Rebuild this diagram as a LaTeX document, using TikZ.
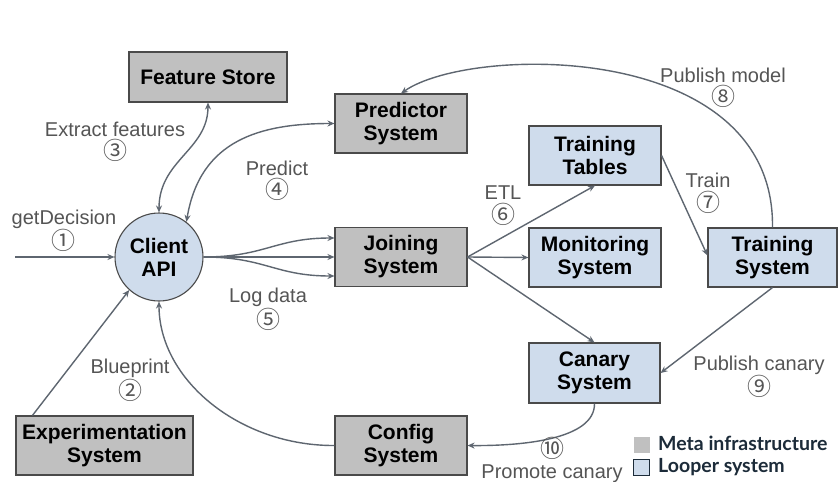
\documentclass[tikz,border=0pt]{standalone}
\usepackage{fontspec}
\setmainfont{Liberation Sans}
\newfontfamily\circfont{Noto Sans CJK SC}
\newfontfamily\legendfont{Lato}
\usetikzlibrary{arrows.meta,calc}
\definecolor{infragray}{HTML}{C0C0C0}
\definecolor{looperblue}{HTML}{CFDCEC}
\definecolor{edgegray}{HTML}{5E6670}
\definecolor{labelgray}{HTML}{555555}
\definecolor{legendnavy}{HTML}{1C2B39}
\definecolor{boxline}{HTML}{4A4A4A}
\newcommand\cnum[1]{\raisebox{-1.5pt}{\circfont\fontsize{24}{22}\selectfont #1}}
\begin{document}
\begin{tikzpicture}[x=1pt,y=-1pt,
  sys/.style={draw=boxline, line width=1.1pt, inner sep=0pt, align=center,
    font=\fontsize{21}{23}\selectfont\bfseries, text=black,
    minimum width=132pt, minimum height=59pt},
  infra/.style={sys, fill=infragray},
  looper/.style={sys, fill=looperblue},
  flow/.style={draw=edgegray, line width=1.4pt, -{Stealth[length=7pt,width=6pt]}},
  both/.style={flow, {Stealth[length=7pt,width=6pt]}-{Stealth[length=7pt,width=6pt]}},
  lbl/.style={align=center, text=labelgray, font=\fontsize{20}{22}\selectfont, inner sep=0pt},
  legtext/.style={anchor=west, inner sep=0pt, text=legendnavy,
    font=\legendfont\bfseries\fontsize{19.5}{20}\selectfont},
  legbox/.style={draw=none, minimum size=16pt, inner sep=0pt},
]
\fill[white] (0,0) rectangle (839,482);
\useasboundingbox (0,0) rectangle (839,482);

% systems
\node[infra, minimum width=158pt, minimum height=50pt] (fs) at (208,77) {Feature Store};
\node[infra] (pred) at (401,123.5) {Predictor\\System};
\node[circle, draw=boxline, line width=1.1pt, fill=looperblue, minimum size=88pt, inner sep=0pt,
      align=center, font=\fontsize{21}{23}\selectfont\bfseries] (client) at (159,257) {Client\\API};
\node[infra] (join) at (401,257) {Joining\\System};
\node[looper] (tt) at (595,155.5) {Training\\Tables};
\node[looper] (mon) at (595,257.5) {Monitoring\\System};
\node[looper, minimum width=129pt] (ts) at (772.5,257.5) {Training\\System};
\node[looper, minimum width=131pt, minimum height=60pt] (can) at (594.5,373) {Canary\\System};
\node[infra, minimum width=177pt] (exp) at (104.5,445.5) {Experimentation\\System};
\node[infra] (cfg) at (401,445.5) {Config\\System};

\coordinate (req) at (15,257);
\coordinate (expout) at ($(exp.north west)+(17,0)$);

% connectors
\draw[flow] (req) -- (client.west);
\draw[both] (client.north) .. controls (159,160) and (208,150) .. (fs.south);
\draw[both] (client.52) .. controls (200,140) and (260,123.5) .. (pred.west);
\draw[flow] (client.east) .. controls (265,257) and (275,238) .. ([yshift=19pt]join.west);
\draw[flow] (client.east) -- (join.west);
\draw[flow] (client.east) .. controls (265,257) and (275,276) .. ([yshift=-19pt]join.west);
\draw[flow] (join.east) -- (tt.south);
\draw[flow] (join.east) -- (mon.west);
\draw[flow] (join.east) -- (can.north);
\draw[flow] (tt.east) -- ([yshift=2pt]ts.west);
\draw[flow] (ts.north) .. controls (775,40) and (470,45) .. (pred.north);
\draw[flow] (ts.south) -- (can.east);
\draw[flow] (can.south) .. controls (595,440) and (520,446) .. (cfg.east);
\draw[flow] (expout) -- (client.228);
\draw[flow] (cfg.west) .. controls (240,446) and (159,380) .. (client.south);

% labels
\node[lbl] (l1) at (64,231) {getDecision\\\cnum{①}};
\node[lbl] (l3) at (115,142) {Extract features\\\cnum{③}};
\node[lbl] (l4) at (277,181) {Predict\\\cnum{④}};
\node[lbl] (l5) at (268,309.5) {Log data\\\cnum{⑤}};
\node[lbl] (l2) at (130,380.5) {Blueprint\\\cnum{②}};
\node[lbl] (l6) at (503,205.5) {ETL\\\cnum{⑥}};
\node[lbl] (l7) at (708,193.5) {Train\\\cnum{⑦}};
\node[lbl] (l8) at (723,88) {Publish model\\\cnum{⑧}};
\node[lbl] (l9) at (759,377) {Publish canary\\\cnum{⑨}};
\node[lbl] (l10) at (552,460) {\cnum{⑩}\\Promote canary};

% legend
\node[legbox, fill=infragray] (kinfra) at (641.5,444.5) {};
\node[legbox, fill=looperblue, draw=legendnavy, line width=0.8pt] (klooper) at (641.5,467.5) {};
\node[legtext] (tinfra) at (658,443) {Meta infrastructure};
\node[legtext] (tlooper) at (658,467) {Looper system};
\end{tikzpicture}
\end{document}
